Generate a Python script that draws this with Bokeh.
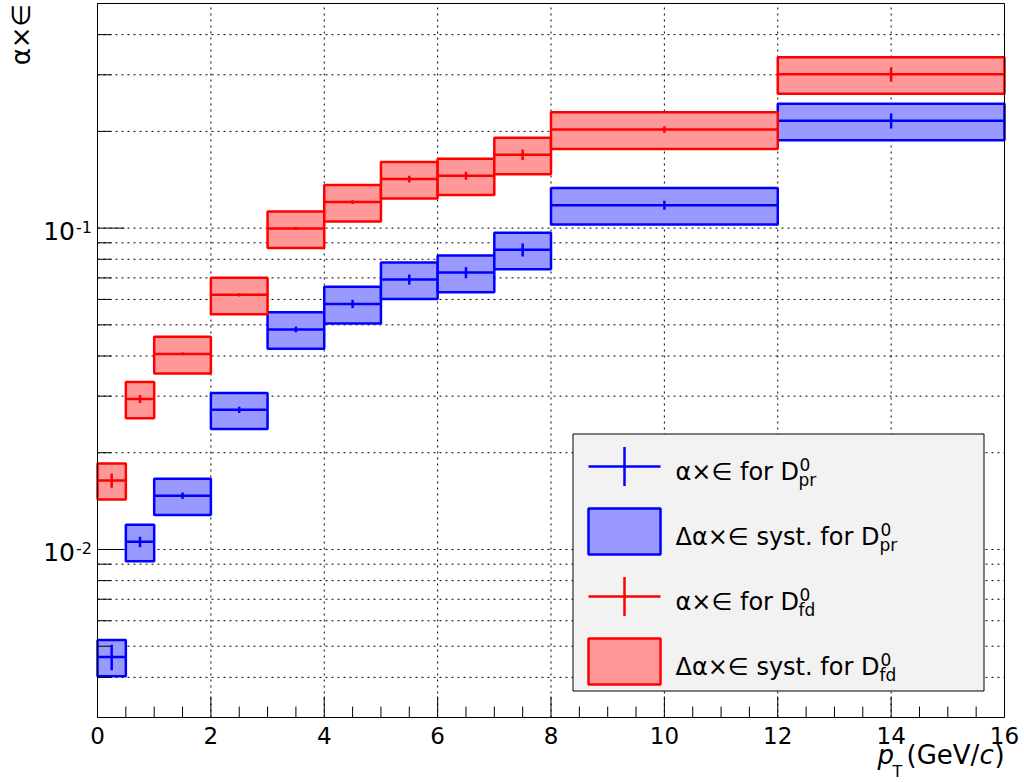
import math
from bokeh.plotting import figure
from bokeh.models import Range1d, Label, ColumnDataSource
from bokeh.embed import file_html
from bokeh.resources import INLINE

# ---------------- data ----------------
pt_low = [0.0, 0.5, 1.0, 2.0, 3.0, 4.0, 5.0, 6.0, 7.0, 8.0, 12.0]
pt_high = [0.5, 1.0, 2.0, 3.0, 4.0, 5.0, 6.0, 7.0, 8.0, 12.0, 16.0]

pr_val = [0.00463, 0.01056, 0.0147, 0.0272, 0.0484, 0.0581, 0.0692, 0.0727, 0.0856, 0.1179, 0.2159]
pr_stat = [0.00042, 0.0004, 0.00035, 0.0006, 0.001, 0.0017, 0.0025, 0.0029, 0.004, 0.0038, 0.0116]
pr_syst = [0.0006, 0.00137, 0.0019, 0.0035, 0.0063, 0.0076, 0.009, 0.0095, 0.0111, 0.0153, 0.0281]

fd_val = [0.0164, 0.0294, 0.0406, 0.062, 0.0997, 0.1205, 0.1421, 0.1456, 0.1692, 0.2028, 0.301]
fd_stat = [0.00085, 0.00084, 0.0004, 0.00075, 0.0011, 0.0017, 0.0034, 0.0042, 0.0064, 0.0048, 0.0158]
fd_syst = [0.0021, 0.0038, 0.0053, 0.0081, 0.013, 0.0157, 0.0185, 0.0189, 0.022, 0.0264, 0.0391]

x_ticks = [0, 2, 4, 6, 8, 10, 12, 14, 16]
x_tick_labels = ["0", "2", "4", "6", "8", "10", "12", "14", "16"]
x_minor = [0.5, 1, 1.5, 2.5, 3, 3.5, 4.5, 5, 5.5, 6.5, 7, 7.5, 8.5, 9, 9.5,
           10.5, 11, 11.5, 12.5, 13, 13.5, 14.5, 15, 15.5]
y_ticks = [0.01, 0.1]
y_tick_exp = ["-2", "-1"]
y_minor = [0.003, 0.004, 0.005, 0.006, 0.007, 0.008, 0.009,
           0.02, 0.03, 0.04, 0.05, 0.06, 0.07, 0.08, 0.09,
           0.2, 0.3, 0.4, 0.5]

y_title = "\u03b1\u00d7\u2208"
legend_main = ["\u03b1\u00d7\u2208 for D", "\u0394\u03b1\u00d7\u2208 syst. for D",
               "\u03b1\u00d7\u2208 for D", "\u0394\u03b1\u00d7\u2208 syst. for D"]
legend_sup = ["0", "0", "0", "0"]
legend_sub = ["pr", "pr", "fd", "fd"]

BLUE, BLUE_FILL = "#0000ff", "#9999ff"
RED, RED_FILL = "#ff0000", "#ff9999"
FONT = "DejaVu Sans"

# ---------------- geometry: the Bokeh frame is the whole canvas ----------------
W, H = 1024, 783
FL, FR, FT, FB = 97, 1004, 3, 717          # pixel edges of the drawn plot frame
XMIN, XMAX = 0.0, 16.0
YMIN, YMAX = 0.003, 0.5
LY0, LY1 = math.log10(YMIN), math.log10(YMAX)


def px_x(px):
    return XMIN + (px - FL) * (XMAX - XMIN) / (FR - FL)


def px_y(py):
    return 10 ** (LY0 + (FB - py) * (LY1 - LY0) / (FB - FT))


def y_px(v):
    return FB - (math.log10(v) - LY0) * (FB - FT) / (LY1 - LY0)


p = figure(width=W, height=H, y_axis_type="log",
           x_range=Range1d(px_x(0), px_x(W)), y_range=Range1d(px_y(H), px_y(0)),
           x_axis_location=None, y_axis_location=None,
           output_backend="svg", toolbar_location=None,
           min_border_left=0, min_border_right=0, min_border_top=0, min_border_bottom=0)
p.grid.visible = False
p.outline_line_color = None
p.background_fill_color = "white"
p.border_fill_color = "white"

DOT = "2 4"

# grid lines
p.segment(x0=x_ticks[1:-1], x1=x_ticks[1:-1], y0=[YMIN] * (len(x_ticks) - 2),
          y1=[YMAX] * (len(x_ticks) - 2), line_color="black", line_width=1, line_dash=DOT)
ygrid_vals = sorted(y_ticks + y_minor[1:-1])
p.segment(x0=[XMIN] * len(ygrid_vals), x1=[XMAX] * len(ygrid_vals), y0=ygrid_vals,
          y1=ygrid_vals, line_color="black", line_width=1, line_dash=DOT)


def series(vals, stats, systs, line, fill):
    src = ColumnDataSource(dict(
        lo=pt_low, hi=pt_high,
        mid=[(a + b) / 2 for a, b in zip(pt_low, pt_high)],
        val=vals,
        top=[v + s for v, s in zip(vals, systs)],
        bot=[v - s for v, s in zip(vals, systs)],
        stop=[v + e for v, e in zip(vals, stats)],
        sbot=[v - e for v, e in zip(vals, stats)],
    ))
    p.quad(left="lo", right="hi", top="top", bottom="bot", source=src,
           fill_color=fill, fill_alpha=1, line_color=line, line_width=2.5)
    p.segment(x0="lo", x1="hi", y0="val", y1="val", source=src,
              line_color=line, line_width=2.5)
    p.segment(x0="mid", x1="mid", y0="sbot", y1="stop", source=src,
              line_color=line, line_width=2.5)


series(pr_val, pr_stat, pr_syst, BLUE, BLUE_FILL)
series(fd_val, fd_stat, fd_syst, RED, RED_FILL)

# frame
p.quad(left=[XMIN], right=[XMAX], bottom=[YMIN], top=[YMAX], fill_color=None,
       line_color="black", line_width=1)

# x ticks (inside, bottom)
p.segment(x0=x_ticks, x1=x_ticks, y0=[YMIN] * len(x_ticks), y1=[px_y(FB - 21)] * len(x_ticks),
          line_color="black", line_width=1)
p.segment(x0=x_minor, x1=x_minor, y0=[YMIN] * len(x_minor), y1=[px_y(FB - 11)] * len(x_minor),
          line_color="black", line_width=1)
# y ticks (inside, left)
p.segment(x0=[XMIN] * len(y_ticks), x1=[px_x(FL + 27)] * len(y_ticks), y0=y_ticks, y1=y_ticks,
          line_color="black", line_width=1)
p.segment(x0=[XMIN] * len(y_minor), x1=[px_x(FL + 14)] * len(y_minor), y0=y_minor, y1=y_minor,
          line_color="black", line_width=1)


def lab(px, pyc, text, size, align="left", style="normal", angle=0.0):
    """Text whose vertical middle sits at canvas pixel row pyc."""
    p.add_layout(Label(x=px_x(px), y=px_y(pyc), text=text, text_font=FONT,
                       text_font_size=size, text_font_style=style, text_align=align,
                       text_baseline="middle", text_color="black", angle=angle))


# x tick labels
for v, t in zip(x_ticks, x_tick_labels):
    p.add_layout(Label(x=v, y=px_y(735), text=t, text_font=FONT, text_font_size="23px",
                       text_align="center", text_baseline="middle", text_color="black"))

# y tick labels 10^n
for v, e in zip(y_ticks, y_tick_exp):
    ty = y_px(v)
    lab(74.5, ty + 2.5, "10", "25px", align="right")
    lab(75.5, ty - 1.5, e, "16px")

# axis titles
lab(20, 3.3, y_title, "26px", align="right", angle=math.pi / 2)
lab(877, 754, "p", "26px", style="italic")
lab(892, 771, "T", "16px")
lab(906, 754, "(GeV/", "26px")
lab(979, 754, "c", "26px", style="italic")
lab(994, 754, ")", "26px")

# ---------------- legend ----------------
p.quad(left=[px_x(572.5)], right=[px_x(983.5)], top=[px_y(433.5)], bottom=[px_y(690.5)],
       fill_color="#f2f2f2", line_color="black", line_width=1)

row_c = [466, 531, 596, 661]
kinds = ["cross", "box", "cross", "box"]
cols = [(BLUE, BLUE_FILL), (BLUE, BLUE_FILL), (RED, RED_FILL), (RED, RED_FILL)]
sup_x = [799, 880, 799, 880]
for yc, kind, (lc, fc), main, sup, sub, sx in zip(row_c, kinds, cols, legend_main,
                                                   legend_sup, legend_sub, sup_x):
    if kind == "cross":
        p.segment(x0=[px_x(588)], x1=[px_x(660)], y0=[px_y(yc)], y1=[px_y(yc)],
                  line_color=lc, line_width=2.5)
        p.segment(x0=[px_x(624)], x1=[px_x(624)], y0=[px_y(yc + 19.5)], y1=[px_y(yc - 19.5)],
                  line_color=lc, line_width=2.5)
    else:
        p.quad(left=[px_x(588)], right=[px_x(660)], top=[px_y(yc - 23)], bottom=[px_y(yc + 23)],
               fill_color=fc, line_color=lc, line_width=2.5)
    lab(675, yc + 5.5, main, "24px")
    lab(sx, yc - 2.5, sup, "17px")
    lab(sx - 1, yc + 13.5, sub, "17px")

open("out.html", "w").write(file_html(p, INLINE))
